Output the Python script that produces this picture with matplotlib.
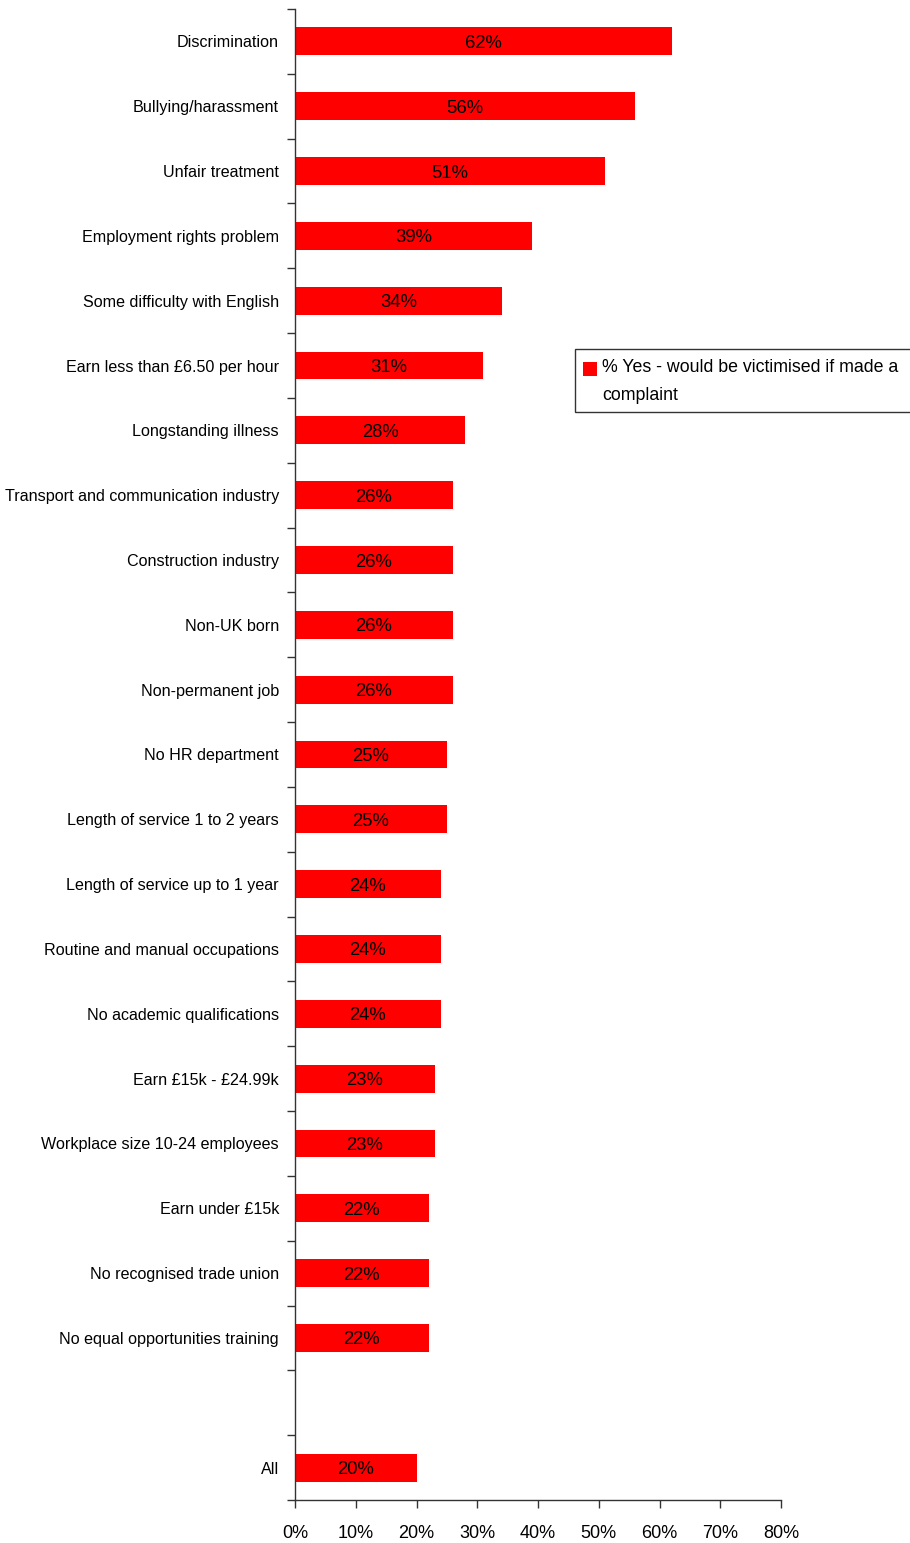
import matplotlib
matplotlib.use("Agg")
import matplotlib.pyplot as plt
from matplotlib.patches import Rectangle

plt.rcParams["font.family"] = ["Liberation Sans", "DejaVu Sans"]

categories = [
    "Discrimination",
    "Bullying/harassment",
    "Unfair treatment",
    "Employment rights problem",
    "Some difficulty with English",
    "Earn less than £6.50 per hour",
    "Longstanding illness",
    "Transport and communication industry",
    "Construction industry",
    "Non-UK born",
    "Non-permanent job",
    "No HR department",
    "Length of service 1 to 2 years",
    "Length of service up to 1 year",
    "Routine and manual occupations",
    "No academic qualifications",
    "Earn £15k - £24.99k",
    "Workplace size 10-24 employees",
    "Earn under £15k",
    "No recognised trade union",
    "No equal opportunities training",
    "",
    "All",
]
values = [62, 56, 51, 39, 34, 31, 28, 26, 26, 26, 26, 25, 25, 24, 24, 24, 23, 23, 22, 22, 22, None, 20]
xticks = [0, 10, 20, 30, 40, 50, 60, 70, 80]
legend_lines = ["% Yes - would be victimised if made a", "complaint"]

W, H = 910, 1543
fig = plt.figure(figsize=(W / 100, H / 100), dpi=100)
ax = fig.add_axes([295 / W, 1 - 1500 / H, (781 - 295) / W, (1500 - 9) / H])

n = len(categories)
ypos = list(range(n))
for y, v in zip(ypos, values):
    if v is None:
        continue
    ax.barh(y, v, height=0.43, color="#ff0000", edgecolor="none")
    ax.text(v / 2, y, f"{v}%", ha="center", va="center_baseline",
            fontsize=13.3, color="black")

ax.set_ylim(n - 0.5, -0.5)
ax.set_xlim(0, 80)
ax.set_yticks(ypos)
ax.set_yticklabels(categories, fontsize=11.6)
ax.tick_params(axis="y", length=0, pad=11.5)
ax.set_yticks([i - 0.5 for i in range(n + 1)], minor=True)
ax.tick_params(axis="y", which="minor", length=6, width=1, color="#333333")
ax.set_xticks(xticks)
ax.set_xticklabels([f"{t}%" for t in xticks], fontsize=13)
ax.tick_params(axis="x", length=6, width=1, color="#333333", pad=12)

for side in ["top", "right"]:
    ax.spines[side].set_visible(False)
for side in ["left", "bottom"]:
    ax.spines[side].set_color("#333333")
    ax.spines[side].set_linewidth(1)

# Legend box, drawn in figure pixel coordinates
def fx(px):
    return px / W

def fy(py):
    return 1 - py / H

fig.patches.append(Rectangle((fx(575), fy(412)), fx(930) - fx(575), fy(349) - fy(412),
                             transform=fig.transFigure, facecolor="white",
                             edgecolor="#333333", linewidth=1))
fig.patches.append(Rectangle((fx(583), fy(376)), fx(14), fy(362) - fy(376),
                             transform=fig.transFigure, facecolor="#ff0000",
                             edgecolor="none"))
fig.text(fx(602), fy(368), legend_lines[0], fontsize=12.8, va="center", ha="left")
fig.text(fx(602), fy(396), legend_lines[1], fontsize=12.8, va="center", ha="left")

fig.savefig("out.png", dpi=100)
